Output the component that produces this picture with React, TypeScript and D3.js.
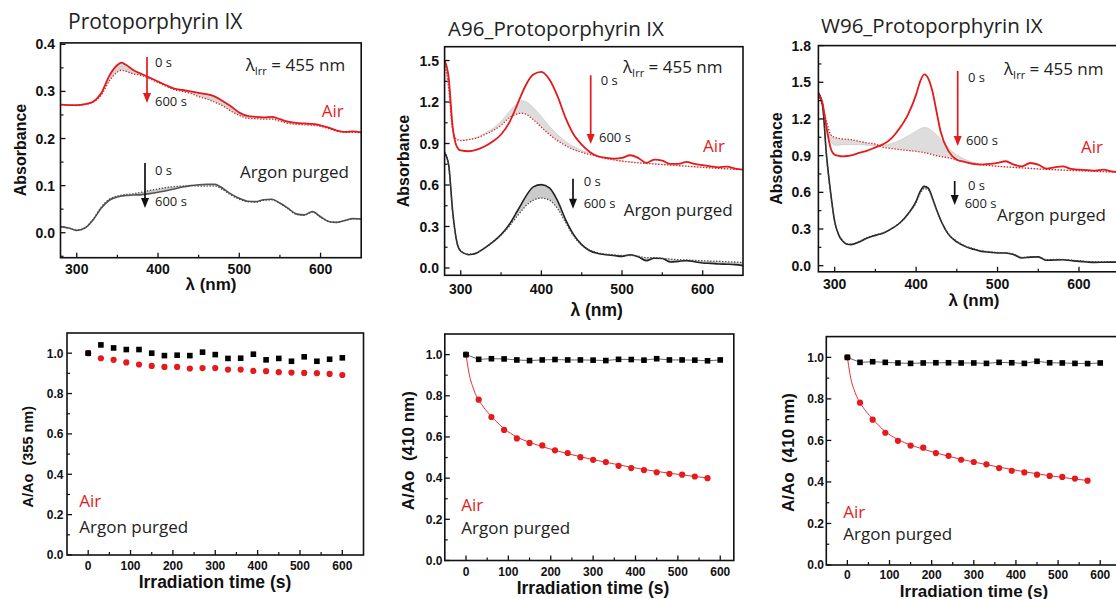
import React from 'react';
import * as d3 from 'd3';

const RED = '#e41a1c';
const AX_FONT = '"Liberation Sans", Arial, sans-serif';
const TX_FONT = '"Open Sans", sans-serif';

// ---------- Spectra: panel 1 (Protoporphyrin IX) ----------
const wl1 = [280,290,300,310,320,330,340,350,355,360,370,380,390,400,410,420,430,440,450,460,470,480,490,500,510,520,530,540,550,560,570,580,590,600,610,620,630,640,650];
const p1Air0 = [.272,.271,.271,.273,.278,.296,.333,.356,.361,.357,.345,.337,.329,.321,.313,.306,.303,.300,.297,.294,.289,.279,.268,.255,.248,.246,.245,.246,.241,.236,.233,.232,.231,.228,.223,.217,.214,.215,.213];
const p1Air600 = [.272,.271,.270,.272,.277,.292,.322,.341,.345,.343,.337,.334,.327,.319,.311,.304,.300,.296,.289,.284,.277,.269,.258,.249,.243,.242,.241,.241,.237,.232,.230,.229,.228,.226,.221,.216,.213,.213,.212];
const p1Ar0 = [.013,.010,.005,.010,.027,.052,.069,.076,.078,.079,.080,.081,.083,.086,.089,.093,.097,.100,.102,.103,.103,.094,.082,.073,.067,.066,.070,.071,.063,.052,.040,.038,.045,.034,.024,.022,.026,.030,.029];
const p1Ar600 = [.013,.010,.005,.010,.028,.054,.071,.078,.080,.081,.083,.086,.090,.093,.096,.098,.099,.100,.099,.099,.099,.091,.080,.071,.066,.065,.069,.070,.062,.051,.039,.037,.044,.033,.024,.022,.026,.030,.029];

// ---------- Spectra: panel 2 (A96) ----------
const wl2 = [280,285,290,295,300,310,320,330,340,350,360,370,375,380,390,400,410,420,430,440,450,460,470,480,490,500,510,520,530,540,550,560,570,580,590,600,610,620,630,640,650];
const p2Air0 = [1.50,1.38,1.02,0.88,0.85,0.844,0.856,0.88,0.916,0.965,1.049,1.18,1.25,1.314,1.399,1.418,1.362,1.242,1.085,0.965,0.892,0.839,0.808,0.796,0.791,0.796,0.815,0.796,0.76,0.784,0.776,0.752,0.752,0.767,0.752,0.743,0.735,0.728,0.733,0.719,0.711];
const p2Air600 = [1.50,1.30,1.00,0.93,0.921,0.928,0.94,0.965,0.993,1.032,1.085,1.114,1.119,1.114,1.073,1.018,0.965,0.921,0.885,0.856,0.836,0.82,0.805,0.791,0.781,0.772,0.766,0.76,0.756,0.752,0.748,0.744,0.740,0.736,0.732,0.728,0.724,0.72,0.717,0.714,0.711];
const p2AirFirst = [1.50,1.32,1.00,0.93,0.925,0.93,0.945,0.975,1.01,1.06,1.13,1.19,1.21,1.205,1.16,1.095,1.025,0.965,0.915,0.878,0.85,0.83,0.812,0.797,0.785,0.775,0.768,0.762,0.757,0.753,0.748,0.744,0.740,0.736,0.732,0.728,0.724,0.72,0.717,0.714,0.711];
const p2Ar0 = [0.832,0.748,0.41,0.193,0.121,0.096,0.109,0.145,0.188,0.241,0.313,0.41,0.46,0.511,0.586,0.603,0.579,0.487,0.35,0.241,0.169,0.125,0.105,0.096,0.09,0.084,0.096,0.082,0.053,0.07,0.068,0.043,0.048,0.053,0.045,0.036,0.033,0.029,0.027,0.024,0.017];
const p2Ar600 = [0.84,0.74,0.40,0.19,0.125,0.10,0.112,0.148,0.19,0.24,0.30,0.375,0.41,0.445,0.49,0.505,0.49,0.43,0.33,0.23,0.165,0.13,0.11,0.10,0.095,0.09,0.09,0.085,0.075,0.075,0.07,0.065,0.06,0.058,0.055,0.052,0.05,0.048,0.045,0.043,0.04];

// ---------- Spectra: panel 3 (W96) ----------
const wl3 = [280,285,290,295,300,305,310,315,320,330,340,350,360,370,380,390,400,405,410,415,420,425,430,440,450,460,470,480,490,500,510,520,530,540,550,560,570,580,590,600,610,620,630,640,650];
const p3Air0 = [1.399,1.331,1.126,0.963,0.908,0.898,0.894,0.897,0.903,0.922,0.941,0.968,0.995,1.044,1.126,1.235,1.399,1.508,1.565,1.53,1.426,1.263,1.099,0.935,0.867,0.848,0.832,0.826,0.832,0.84,0.854,0.826,0.813,0.84,0.826,0.794,0.804,0.813,0.791,0.785,0.782,0.777,0.785,0.772,0.764];
const p3Air600 = [1.40,1.30,1.181,1.072,1.05,1.042,1.036,1.033,1.031,1.017,1.004,0.995,0.968,0.958,0.949,0.942,0.935,0.93,0.925,0.918,0.908,0.9,0.894,0.881,0.865,0.848,0.836,0.826,0.819,0.813,0.808,0.804,0.8,0.796,0.791,0.788,0.785,0.782,0.779,0.777,0.774,0.772,0.769,0.766,0.764];
const p3AirFirst = [1.40,1.31,1.15,1.02,0.985,0.985,0.99,0.99,0.99,0.99,0.985,0.98,0.985,1.0,1.025,1.06,1.10,1.12,1.13,1.125,1.10,1.07,1.035,0.96,0.905,0.87,0.845,0.83,0.819,0.813,0.808,0.804,0.8,0.796,0.791,0.788,0.785,0.782,0.779,0.777,0.774,0.772,0.769,0.766,0.764];
const p3Ar0 = [1.413,1.317,0.90,0.60,0.36,0.25,0.20,0.175,0.172,0.194,0.226,0.248,0.267,0.303,0.349,0.423,0.526,0.608,0.649,0.635,0.554,0.46,0.376,0.254,0.194,0.158,0.135,0.117,0.11,0.104,0.104,0.09,0.063,0.07,0.072,0.044,0.047,0.049,0.042,0.035,0.03,0.027,0.028,0.029,0.03];
const p3Ar600 = [1.413,1.317,0.89,0.59,0.36,0.255,0.205,0.18,0.176,0.198,0.23,0.252,0.271,0.306,0.35,0.42,0.515,0.59,0.63,0.62,0.545,0.455,0.375,0.258,0.2,0.163,0.14,0.122,0.115,0.108,0.106,0.094,0.068,0.073,0.074,0.05,0.051,0.052,0.046,0.04,0.035,0.032,0.032,0.033,0.034];

// ---------- Kinetics ----------
const times = [0,30,60,90,120,150,180,210,240,270,300,330,360,390,420,450,480,510,540,570,600];
const timesAir = [0,30,60,90,120,150,180,210,240,270,300,330,360,390,420,450,480,510,540,570];
const k1Ar = [1.0,1.041,1.026,1.018,1.018,1.0,0.988,0.99,0.988,1.005,0.993,0.974,0.975,0.995,0.967,0.974,0.96,0.982,0.96,0.97,0.977];
const k1Air = [1.0,0.975,0.967,0.954,0.944,0.937,0.932,0.932,0.924,0.926,0.926,0.919,0.919,0.912,0.911,0.906,0.904,0.902,0.901,0.897,0.892];
const k2Ar = [1.0,0.977,0.98,0.979,0.974,0.971,0.974,0.976,0.974,0.974,0.973,0.971,0.977,0.976,0.973,0.98,0.974,0.974,0.973,0.97,0.974];
const k2Air = [1.0,0.781,0.697,0.634,0.593,0.571,0.559,0.535,0.522,0.502,0.489,0.478,0.46,0.449,0.439,0.428,0.421,0.417,0.408,0.4];
const k3Ar = [1.0,0.976,0.979,0.976,0.973,0.971,0.973,0.974,0.974,0.973,0.973,0.971,0.976,0.974,0.971,0.981,0.974,0.973,0.971,0.97,0.973];
const k3Air = [1.0,0.782,0.7,0.637,0.598,0.575,0.565,0.539,0.526,0.507,0.496,0.485,0.467,0.454,0.446,0.435,0.429,0.424,0.416,0.406];
const fitT = [0,3,8,15,22,30,45,60,90,120,150,180,210,240,270,300,360,420,480,540,570];
const fit2 = [1.0,0.96,0.9,0.85,0.81,0.78,0.735,0.70,0.64,0.60,0.574,0.553,0.535,0.519,0.504,0.49,0.465,0.442,0.424,0.408,0.401];
const fit3 = [1.0,0.96,0.9,0.85,0.812,0.782,0.738,0.703,0.643,0.604,0.578,0.558,0.54,0.524,0.509,0.496,0.471,0.449,0.43,0.414,0.407];

// ---------- Ticks ----------
const wlMajor = [300, 400, 500, 600];
const wlMinor = [350, 450, 550];
const p1YMajor = [0, 0.1, 0.2, 0.3, 0.4];
const p1YMinor = [-0.05, 0.05, 0.15, 0.25, 0.35];
const p2YMajor = [0, 0.3, 0.6, 0.9, 1.2, 1.5];
const p2YMinor = [0.15, 0.45, 0.75, 1.05, 1.35];
const p3YMajor = [0, 0.3, 0.6, 0.9, 1.2, 1.5, 1.8];
const p3YMinor = [0.15, 0.45, 0.75, 1.05, 1.35, 1.65];
const tMajor = [0, 100, 200, 300, 400, 500, 600];
const tMinor = [50, 150, 250, 350, 450, 550];
const kYMajor = [0, 0.2, 0.4, 0.6, 0.8, 1.0];
const kYMinor = [0.1, 0.3, 0.5, 0.7, 0.9];

type S = d3.ScaleLinear<number, number>;

function Axes(props: {
  id: string; x: S; y: S; xt: number[]; xm: number[]; yt: number[]; ym: number[];
  fs: number; xBase: number; yRight: number; children?: React.ReactNode;
}) {
  const { id, x, y, xt, xm, yt, ym, fs, xBase, yRight } = props;
  const [x0, x1] = x.range();
  const [yb, yt0] = y.range();
  const fmt = d3.format('.1f');
  return (
    <g>
      <defs>
        <clipPath id={id}>
          <rect x={x0} y={yt0} width={x1 - x0} height={yb - yt0} />
        </clipPath>
      </defs>
      <g clipPath={`url(#${id})`}>{props.children}</g>
      <rect x={x0} y={yt0} width={x1 - x0} height={yb - yt0} fill="none" stroke="#111" strokeWidth={1.6} />
      {xt.map((v) => (
        <g key={'xt' + v}>
          <line x1={x(v)} x2={x(v)} y1={yb} y2={yb - 5} stroke="#111" strokeWidth={1.3} />
          <text x={x(v)} y={xBase} textAnchor="middle" fontSize={fs} fontWeight="bold" fontFamily={AX_FONT} fill="#111">{v}</text>
        </g>
      ))}
      {xm.map((v) => (
        <line key={'xm' + v} x1={x(v)} x2={x(v)} y1={yb} y2={yb - 3} stroke="#111" strokeWidth={1.2} />
      ))}
      {yt.map((v) => (
        <g key={'yt' + v}>
          <line x1={x0} x2={x0 + 5} y1={y(v)} y2={y(v)} stroke="#111" strokeWidth={1.3} />
          <text x={yRight} y={y(v)} dy="0.36em" textAnchor="end" fontSize={fs} fontWeight="bold" fontFamily={AX_FONT} fill="#111">{fmt(v)}</text>
        </g>
      ))}
      {ym.map((v) => (
        <line key={'ym' + v} x1={x0} x2={x0 + 3} y1={y(v)} y2={y(v)} stroke="#111" strokeWidth={1.2} />
      ))}
    </g>
  );
}

function lineOf(x: S, y: S, xs: number[], ys: number[]) {
  return d3.line<number>().x((_, i) => x(xs[i])).y((d) => y(d)).curve(d3.curveMonotoneX)(ys) || '';
}
function bandOf(x: S, y: S, xs: number[], lo: number[], hi: number[]) {
  return d3.area<number>().x((_, i) => x(xs[i])).y0((_, i) => y(lo[i])).y1((d) => y(d)).curve(d3.curveMonotoneX)(hi) || '';
}

function Arrow({ x, y1, y2, color }: { x: number; y1: number; y2: number; color: string }) {
  return (
    <g>
      <line x1={x} x2={x} y1={y1} y2={y2 - 8} stroke={color} strokeWidth={1.7} />
      <path d={`M${x - 4},${y2 - 10} L${x + 4},${y2 - 10} L${x},${y2} Z`} fill={color} />
    </g>
  );
}

function T({ x, y, s, c = '#222', size = 17, anchor = 'start' }: { x: number; y: number; s: string; c?: string; size?: number; anchor?: string }) {
  return <text x={x} y={y} fill={c} fontSize={size} fontFamily={TX_FONT} textAnchor={anchor as any} style={{ whiteSpace: 'pre' }}>{s}</text>;
}

function Lirr({ x, y }: { x: number; y: number }) {
  return (
    <text x={x} y={y} fill="#222" fontSize={17} fontFamily={TX_FONT}>
      λ<tspan fontSize={11} dy={4}>Irr</tspan><tspan dy={-4}> = 455 nm</tspan>
    </text>
  );
}

function YTitle({ x, y, s, size }: { x: number; y: number; s: string; size: number }) {
  return (
    <text transform={`translate(${x},${y}) rotate(-90)`} textAnchor="middle" fontSize={size} fontWeight="bold" fontFamily={AX_FONT} fill="#111" style={{ whiteSpace: 'pre' }}>{s}</text>
  );
}
function XTitle({ x, y, s, size }: { x: number; y: number; s: string; size: number }) {
  return <text x={x} y={y} textAnchor="middle" fontSize={size} fontWeight="bold" fontFamily={AX_FONT} fill="#111">{s}</text>;
}

const DOT = '1.3,1.7';

function SpectrumPanel(p: {
  id: string; x: S; y: S; wl: number[]; air0: number[]; air600: number[]; airFirst?: number[];
  ar0: number[]; ar600: number[]; yt: number[]; ym: number[]; xBase: number; yRight: number; arColor?: string;
}) {
  const { x, y, wl } = p;
  return (
    <Axes id={p.id} x={x} y={y} xt={wlMajor} xm={wlMinor} yt={p.yt} ym={p.ym} fs={14} xBase={p.xBase} yRight={p.yRight}>
      <path d={bandOf(x, y, wl, p.air600, p.airFirst || p.air0)} fill="#cfcfcf" fillOpacity={p.airFirst ? 0.7 : 0.9} stroke="none" />
      {p.airFirst && <path d={lineOf(x, y, wl, p.airFirst)} fill="none" stroke="#c8c8c8" strokeWidth={0.7} />}
      <path d={bandOf(x, y, wl, p.ar600, p.ar0)} fill="#c2c2c2" fillOpacity={0.85} stroke="none" />
      <path d={lineOf(x, y, wl, p.air600)} fill="none" stroke={RED} strokeWidth={1.3} strokeDasharray={DOT} />
      <path d={lineOf(x, y, wl, p.ar0)} fill="none" stroke={p.arColor || '#222'} strokeWidth={1.6} />
      <path d={lineOf(x, y, wl, p.ar600)} fill="none" stroke="#444" strokeWidth={1.3} strokeDasharray={DOT} />
      <path d={lineOf(x, y, wl, p.air0)} fill="none" stroke={RED} strokeWidth={1.8} />
    </Axes>
  );
}

function KineticPanel(p: {
  id: string; x: S; y: S; ar: number[]; air: number[]; fit?: number[]; xBase: number; yRight: number; connect: boolean;
}) {
  const { x, y } = p;
  const arLine = d3.line<number>().x((_, i) => x(times[i])).y((d) => y(d))(p.ar) || '';
  const airT = p.air.length === times.length ? times : timesAir;
  return (
    <Axes id={p.id} x={x} y={y} xt={tMajor} xm={tMinor} yt={kYMajor} ym={kYMinor} fs={12} xBase={p.xBase} yRight={p.yRight}>
      {p.connect && <path d={arLine} fill="none" stroke="#555" strokeWidth={0.9} />}
      {p.fit && <path d={lineOf(x, y, fitT, p.fit)} fill="none" stroke={RED} strokeWidth={0.9} />}
      {p.air.map((v, i) => (
        <circle key={'c' + i} cx={x(airT[i])} cy={y(v)} r={3.1} fill={RED} />
      ))}
      {p.ar.map((v, i) => (
        <rect key={'s' + i} x={x(times[i]) - 2.8} y={y(v) - 2.8} width={5.6} height={5.6} fill="#000" />
      ))}
    </Axes>
  );
}

export default function App() {
  // spectra scales
  const x1 = d3.scaleLinear().domain([280, 650]).range([60.5, 361.2]);
  const y1 = d3.scaleLinear().domain([-0.053, 0.403]).range([257.7, 42.9]);
  const x2 = d3.scaleLinear().domain([280, 650]).range([444.6, 743.0]);
  const y2 = d3.scaleLinear().domain([-0.053, 1.6]).range([275.3, 46.7]);
  const x3 = d3.scaleLinear().domain([280, 650]).range([818.4, 1119.7]);
  const y3 = d3.scaleLinear().domain([-0.05, 1.8]).range([271.8, 45.6]);
  // kinetics scales
  const kx1 = d3.scaleLinear().domain([-50, 650]).range([67, 363.5]);
  const ky1 = d3.scaleLinear().domain([0, 1.1]).range([555, 333]);
  const kx2 = d3.scaleLinear().domain([-50, 632]).range([444.8, 733.8]);
  const ky2 = d3.scaleLinear().domain([0, 1.1]).range([560.5, 334]);
  const kx3 = d3.scaleLinear().domain([-50, 650]).range([826.3, 1121.3]);
  const ky3 = d3.scaleLinear().domain([0, 1.1]).range([565, 336.6]);

  return (
    <svg width={1116} height={599} viewBox="0 0 1116 599" style={{ position: 'absolute', left: 0, top: 0, background: '#fff' }}>
      <rect x={0} y={0} width={1116} height={599} fill="#fff" />
      {/* Titles */}
      <T x={68} y={29.3} s="Protoporphyrin IX" size={21} />
      <T x={448} y={36} s="A96_Protoporphyrin IX" size={20.5} />
      <T x={821} y={32.5} s="W96_Protoporphyrin IX" size={20.5} />

      {/* Panel 1 */}
      <SpectrumPanel id="c1" x={x1} y={y1} wl={wl1} air0={p1Air0} air600={p1Air600} ar0={p1Ar0} ar600={p1Ar600} yt={p1YMajor} ym={p1YMinor} xBase={273.5} yRight={55} arColor="#555" />
      <YTitle x={25.5} y={150} s="Absorbance" size={16} />
      <XTitle x={211} y={290} s="λ (nm)" size={17} />
      <Lirr x={245.7} y={71} />
      <Arrow x={147} y1={57} y2={103} color={RED} />
      <T x={155} y={67} s="0 s" size={13} />
      <T x={155} y={105.7} s="600 s" size={13} />
      <T x={321.7} y={116.7} s="Air" c={RED} />
      <T x={240} y={177.7} s="Argon purged" />
      <Arrow x={145} y1={163} y2={208} color="#111" />
      <T x={155} y={175} s="0 s" size={13} />
      <T x={155} y={205.7} s="600 s" size={13} />

      {/* Panel 2 */}
      <SpectrumPanel id="c2" x={x2} y={y2} wl={wl2} air0={p2Air0} air600={p2Air600} airFirst={p2AirFirst} ar0={p2Ar0} ar600={p2Ar600} yt={p2YMajor} ym={p2YMinor} xBase={294} yRight={439} />
      <YTitle x={408.7} y={161} s="Absorbance" size={16} />
      <XTitle x={596.7} y={316} s="λ (nm)" size={17.5} />
      <Lirr x={623} y={73} />
      <Arrow x={590.7} y1={75.3} y2={144} color={RED} />
      <T x={600.7} y={85.3} s="0 s" size={13} />
      <T x={599} y={142} s="600 s" size={13} />
      <T x={703} y={152} s="Air" c={RED} />
      <Arrow x={573} y1={178.7} y2={208.7} color="#111" />
      <T x={583.7} y={185.7} s="0 s" size={13} />
      <T x={583.7} y={208} s="600 s" size={13} />
      <T x={623.7} y={216} s="Argon purged" />

      {/* Panel 3 */}
      <SpectrumPanel id="c3" x={x3} y={y3} wl={wl3} air0={p3Air0} air600={p3Air600} airFirst={p3AirFirst} ar0={p3Ar0} ar600={p3Ar600} yt={p3YMajor} ym={p3YMinor} xBase={288.5} yRight={811} />
      <YTitle x={782.3} y={158.5} s="Absorbance" size={16} />
      <XTitle x={974} y={306} s="λ (nm)" size={17} />
      <Lirr x={1004} y={75} />
      <Arrow x={957.7} y1={71} y2={146} color={RED} />
      <T x={968} y={82.3} s="0 s" size={13} />
      <T x={966} y={145} s="600 s" size={13} />
      <T x={1081} y={153} s="Air" c={RED} />
      <Arrow x={954.7} y1={181} y2={205} color="#111" />
      <T x={968} y={189.7} s="0 s" size={13} />
      <T x={964.7} y={208} s="600 s" size={13} />
      <T x={997} y={221} s="Argon purged" />

      {/* Panel 4 */}
      <KineticPanel id="k1" x={kx1} y={ky1} ar={k1Ar} air={k1Air} xBase={569.5} yRight={63.5} connect={false} />
      <YTitle x={33} y={456.7} s="A/Ao  (355 nm)" size={14.5} />
      <XTitle x={215} y={588} s="Irradiation time (s)" size={17.5} />
      <T x={79.3} y={506.7} s="Air" c={RED} />
      <T x={79.3} y={533.3} s="Argon purged" />

      {/* Panel 5 */}
      <KineticPanel id="k2" x={kx2} y={ky2} ar={k2Ar} air={k2Air} fit={fit2} xBase={575.5} yRight={442.5} connect={true} />
      <YTitle x={413.7} y={450.7} s="A/Ao  (410 nm)" size={17} />
      <XTitle x={593} y={594} s="Irradiation time (s)" size={17.5} />
      <T x={461.3} y={511} s="Air" c={RED} />
      <T x={461.3} y={534} s="Argon purged" />

      {/* Panel 6 */}
      <KineticPanel id="k3" x={kx3} y={ky3} ar={k3Ar} air={k3Air} fit={fit3} xBase={578.5} yRight={824} connect={true} />
      <YTitle x={794} y={452.5} s="A/Ao  (410 nm)" size={17} />
      <XTitle x={974} y={596.5} s="Irradiation time (s)" size={17} />
      <T x={843.3} y={518.3} s="Air" c={RED} />
      <T x={843.3} y={540} s="Argon purged" />
    </svg>
  );
}
